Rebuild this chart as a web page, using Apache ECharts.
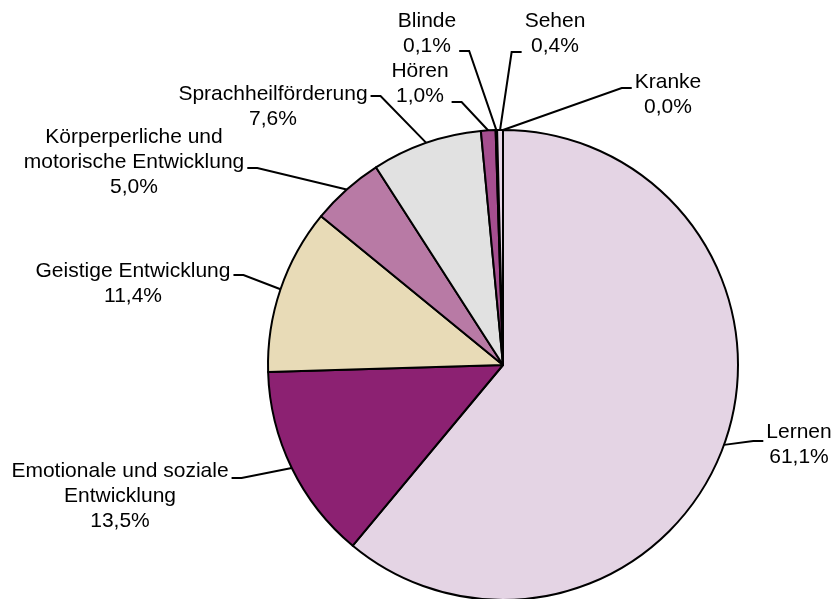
<!DOCTYPE html>
<html>
<head>
<meta charset="utf-8">
<script src="https://cdn.jsdelivr.net/npm/echarts@6/dist/echarts.min.js"></script>
<style>
    html, body { margin: 0; padding: 0; background: #fff; }
    #pieChart { width: 834px; height: 599px; }
</style>
</head>
<body>
<div id="pieChart"></div>
<script>
// 数据 - 从图中读取
const categories = [
    'Lernen',
    'Emotionale und soziale\nEntwicklung',
    'Geistige Entwicklung',
    'Körperperliche und\nmotorische Entwicklung',
    'Sprachheilförderung',
    'Hören',
    'Blinde',
    'Sehen',
    'Kranke'
];
const shares = [61.1, 13.5, 11.4, 5.0, 7.6, 1.0, 0.1, 0.4, 0.0];
const sliceColors = ['#E4D4E4', '#8C2172', '#E8DBB7', '#B87AA5', '#E1E1E1', '#A54E8F', '#7F1F68', '#E8D8E8', '#B87AA5'];

// 标签位置: [文字中心x, 顶部y, 引导线连接y]
const labelSpots = [
    [799, 420, 441],
    [120, 459, 478],
    [133, 259, 275],
    [134, 125, 168],
    [273, 82, 96],
    [420, 59, 102],
    [427, 9, 51],
    [555, 9, 52],
    [668, 70, 88]
];

document.addEventListener('DOMContentLoaded', function() {
    initPieChart();
});

function initPieChart() {
    const pieChart = echarts.init(document.getElementById('pieChart'));
    const centerX = 503;
    const centerY = 365;

    const pieData = categories.map((name, i) => ({
        name: name,
        value: shares[i],
        itemStyle: { color: sliceColors[i] }
    }));

    const option = {
        animation: false,
        series: [
            {
                type: 'pie',
                center: [centerX, centerY],
                radius: 235,
                startAngle: 90,
                clockwise: true,
                avoidLabelOverlap: false,
                itemStyle: {
                    borderColor: '#000',
                    borderWidth: 2
                },
                label: {
                    show: true,
                    position: 'outside',
                    color: '#000',
                    fontFamily: 'Liberation Sans, Arial, sans-serif',
                    fontSize: 21,
                    lineHeight: 25,
                    align: 'center',
                    formatter: function(p) {
                        return p.name + '\n' + p.value.toFixed(1).replace('.', ',') + '%';
                    }
                },
                labelLine: {
                    show: true,
                    length: 10,
                    length2: 10,
                    lineStyle: { color: '#000', width: 2 }
                },
                labelLayout: function(params) {
                    const spot = labelSpots[params.dataIndex];
                    const w = params.labelRect.width;
                    const start = params.labelLinePoints ? params.labelLinePoints[0] : [centerX, centerY];
                    const onLeft = start[0] > spot[0];
                    const edgeX = onLeft ? spot[0] + w / 2 + 3 : spot[0] - w / 2 - 3;
                    const bendX = onLeft ? edgeX + 10 : edgeX - 10;
                    return {
                        x: spot[0],
                        y: spot[1],
                        align: 'center',
                        verticalAlign: 'top',
                        labelLinePoints: [start, [bendX, spot[2]], [edgeX, spot[2]]]
                    };
                },
                emphasis: { disabled: true },
                data: pieData
            }
        ]
    };

    pieChart.setOption(option);

    window.addEventListener('resize', function() {
        pieChart.resize();
    });
}
</script>
</body>
</html>
